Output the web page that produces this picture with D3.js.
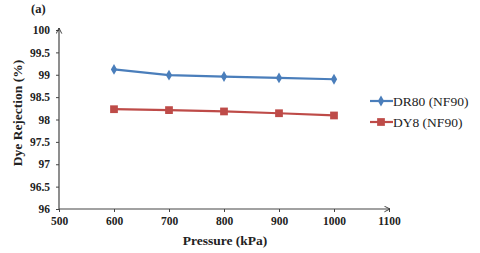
<!DOCTYPE html>
<html>
<head>
<meta charset="utf-8">
<script src="https://d3js.org/d3.v7.min.js"></script>
<style>
  body { margin: 0; background: #fff; }
  text { font-family: "Liberation Serif", "Times New Roman", serif; }
</style>
</head>
<body>
<script>
var pressure = [600, 700, 800, 900, 1000];
var dr80 = [99.12, 98.99, 98.96, 98.93, 98.90];
var dy8 = [98.23, 98.21, 98.18, 98.14, 98.09];
var xTicks = [500, 600, 700, 800, 900, 1000, 1100];
var yTicks = [96, 96.5, 97, 97.5, 98, 98.5, 99, 99.5, 100];

var W = 480, H = 253;
var pLeft = 59, pRight = 389, pTop = 30, pBottom = 209;

var svg = d3.select("body").append("svg")
  .attr("width", W).attr("height", H);

var x = d3.scaleLinear().domain([500, 1100]).range([pLeft, pRight]);
var y = d3.scaleLinear().domain([96, 100]).range([pBottom, pTop]);

var defs = svg.append("defs");
defs.append("marker").attr("id", "arr")
  .attr("viewBox", "0 0 10 10").attr("refX", 9).attr("refY", 5)
  .attr("markerWidth", 7).attr("markerHeight", 7).attr("orient", "auto")
  .attr("markerUnits", "userSpaceOnUse")
  .append("path").attr("d", "M1,1 L9,5 L1,9")
  .attr("fill", "none").attr("stroke", "#333").attr("stroke-width", 1.3);

var xAxis = d3.axisBottom(x).tickValues(xTicks).tickSizeInner(3).tickSizeOuter(0).tickPadding(5)
  .tickFormat(function(d){ return d; });
var yAxis = d3.axisLeft(y).tickValues(yTicks).tickSizeInner(3).tickSizeOuter(0).tickPadding(6)
  .tickFormat(function(d){ return d; });

var gx = svg.append("g").attr("transform", "translate(0," + pBottom + ")").call(xAxis);
var gy = svg.append("g").attr("transform", "translate(" + pLeft + ",0)").call(yAxis);

[gx, gy].forEach(function(g) {
  g.select(".domain").remove();
  g.selectAll("line").attr("stroke", "#444");
  g.selectAll("text").attr("font-size", 11.5).attr("font-weight", "bold")
    .attr("fill", "#222").style("font-family", "'Liberation Serif', serif");
});

// axis lines with arrows
svg.append("line").attr("x1", pLeft).attr("y1", pBottom).attr("x2", pRight + 1).attr("y2", pBottom)
  .attr("stroke", "#444").attr("stroke-width", 1.2).attr("marker-end", "url(#arr)");
svg.append("line").attr("x1", pLeft).attr("y1", pBottom).attr("x2", pLeft).attr("y2", pTop - 2)
  .attr("stroke", "#444").attr("stroke-width", 1.2).attr("marker-end", "url(#arr)");

var series = [
  { name: "DR80 (NF90)", values: dr80, color: "#4a7ebb", shape: d3.symbolDiamond, size: 34 },
  { name: "DY8 (NF90)", values: dy8, color: "#be4b48", shape: d3.symbolSquare, size: 60 }
];

var line = d3.line()
  .x(function(d, i){ return x(pressure[i]); })
  .y(function(d){ return y(d); });

series.forEach(function(s) {
  svg.append("path").datum(s.values)
    .attr("d", line).attr("fill", "none")
    .attr("stroke", s.color).attr("stroke-width", 2.2);
  svg.selectAll(null).data(s.values).enter().append("path")
    .attr("transform", function(d, i){ return "translate(" + x(pressure[i]) + "," + y(d) + ")"; })
    .attr("d", d3.symbol().type(s.shape).size(s.size))
    .attr("fill", s.color);
});

// legend
var leg = svg.append("g");
series.forEach(function(s, i) {
  var ly = 101 + i * 21;
  leg.append("line").attr("x1", 370).attr("x2", 393).attr("y1", ly).attr("y2", ly)
    .attr("stroke", s.color).attr("stroke-width", 2.2);
  leg.append("path").attr("transform", "translate(381," + ly + ")")
    .attr("d", d3.symbol().type(s.shape).size(s.size)).attr("fill", s.color);
  leg.append("text").attr("x", 393).attr("y", ly + 4.5)
    .attr("font-size", 13.5).attr("fill", "#222")
    .style("font-family", "'Liberation Serif', serif").text(s.name);
});

// titles
svg.append("text").attr("x", 225).attr("y", 245).attr("text-anchor", "middle")
  .attr("font-size", 13.5).attr("font-weight", "bold").attr("fill", "#222").text("Pressure (kPa)");
svg.append("text").attr("transform", "translate(22,113) rotate(-90)").attr("text-anchor", "middle")
  .attr("font-size", 13.5).attr("font-weight", "bold").attr("fill", "#222").text("Dye Rejection (%)");
svg.append("text").attr("x", 31).attr("y", 13)
  .attr("font-size", 12.5).attr("font-weight", "bold").attr("fill", "#222").text("(a)");
</script>
</body>
</html>
